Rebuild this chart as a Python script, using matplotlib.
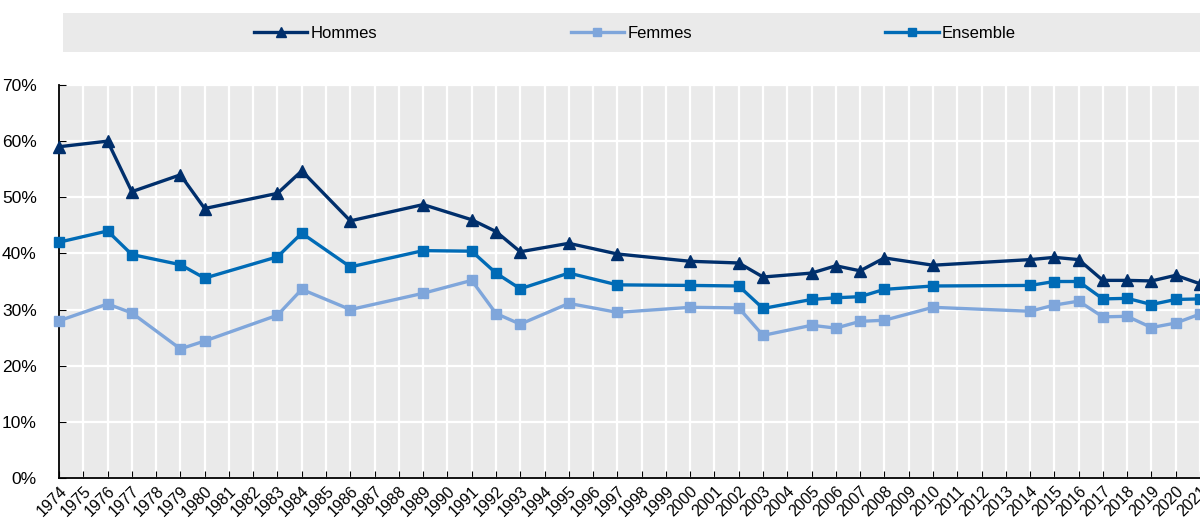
import matplotlib.pyplot as plt
from matplotlib.patches import Rectangle
from matplotlib.ticker import FuncFormatter

plt.rcParams['font.family'] = ['Liberation Sans', 'DejaVu Sans']

years = [1974, 1976, 1977, 1979, 1980, 1983, 1984, 1986, 1989, 1991, 1992, 1993,
         1995, 1997, 2000, 2002, 2003, 2005, 2006, 2007, 2008, 2010, 2014, 2015,
         2016, 2017, 2018, 2019, 2020, 2021]

hommes = [59.0, 60.0, 51.0, 54.0, 48.0, 50.7, 54.7, 45.8, 48.7, 46.0, 43.9, 40.3,
          41.8, 39.9, 38.6, 38.3, 35.8, 36.5, 37.8, 36.9, 39.2, 37.9, 38.9, 39.3,
          38.9, 35.2, 35.2, 35.1, 36.1, 34.6]
femmes = [28.0, 31.0, 29.4, 23.0, 24.4, 29.0, 33.6, 30.0, 32.9, 35.2, 29.3, 27.4,
          31.1, 29.5, 30.4, 30.3, 25.4, 27.2, 26.7, 27.9, 28.1, 30.4, 29.7, 30.8,
          31.5, 28.7, 28.8, 26.8, 27.6, 29.2]
ensemble = [42.0, 44.0, 39.8, 38.0, 35.6, 39.4, 43.6, 37.6, 40.5, 40.4, 36.5, 33.7,
            36.5, 34.4, 34.3, 34.2, 30.2, 31.8, 32.1, 32.3, 33.6, 34.2, 34.3, 35.0,
            35.0, 31.9, 32.0, 30.9, 31.8, 31.9]

all_years = list(range(1974, 2022))

c_h = '#002F6C'
c_f = '#7FA6DB'
c_e = '#006BB6'

fig = plt.figure(figsize=(12, 5.18), dpi=100)
ax = fig.add_axes([59 / 1200, 1 - 478 / 518, 1141 / 1200, (478 - 85) / 518])
ax.set_facecolor('#EAEAEA')

ax.plot(years, hommes, color=c_h, lw=2.4, marker='^', ms=8, clip_on=False,
        zorder=5, label='Hommes')
ax.plot(years, femmes, color=c_f, lw=2.4, marker='s', ms=7, clip_on=False,
        zorder=4, label='Femmes')
ax.plot(years, ensemble, color=c_e, lw=2.4, marker='s', ms=7, clip_on=False,
        zorder=4, label='Ensemble')

ax.set_xlim(1974, 2021)
ax.set_ylim(0, 70)
ax.set_xticks(all_years)
ax.set_xticklabels([str(y) for y in all_years], rotation=45, ha='right',
                   va='top', rotation_mode='anchor', fontsize=11.5)
ax.set_yticks(range(0, 71, 10))
ax.yaxis.set_major_formatter(FuncFormatter(lambda v, p: '%d%%' % v))
ax.tick_params(axis='y', labelsize=12.5, direction='in', length=5, pad=16)
ax.tick_params(axis='x', direction='in', length=5, pad=4)
ax.grid(True, color='white', lw=1.6)
ax.set_axisbelow(True)
for s in ['top', 'right']:
    ax.spines[s].set_visible(False)
for s in ['left', 'bottom']:
    ax.spines[s].set_color('black')
    ax.spines[s].set_linewidth(1.3)

# legend band
fig.patches.append(Rectangle((63 / 1200, 1 - 52 / 518), 1137 / 1200, 39 / 518,
                             transform=fig.transFigure, facecolor='#EAEAEA',
                             edgecolor='none', zorder=0))
handles, labels = ax.get_legend_handles_labels()
fig.legend(handles, labels, loc='center', ncol=3, frameon=False, fontsize=12,
           bbox_to_anchor=(635 / 1200, 1 - 33 / 518), handlelength=3.2,
           handletextpad=0.2, columnspacing=11.6, markerscale=0.85)

fig.savefig('out.png', dpi=100)
